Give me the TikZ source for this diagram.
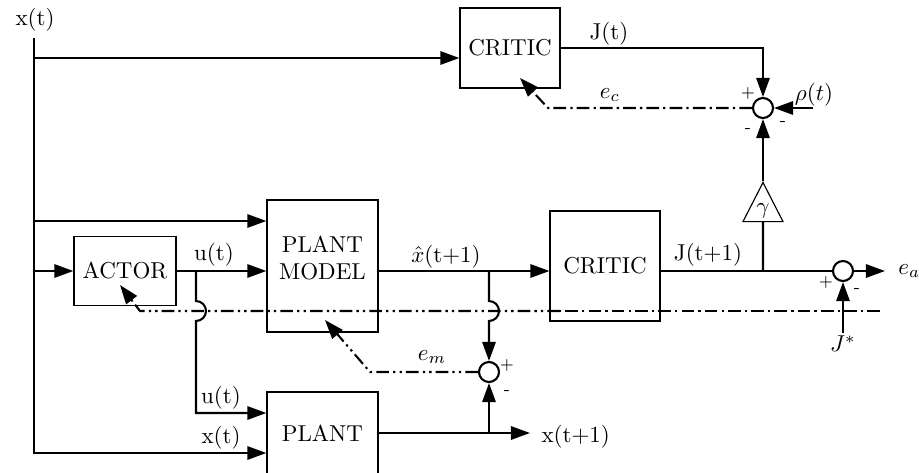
\documentclass[tikz,border=0pt]{standalone}
\usepackage{amsmath}
\usepackage{tikz}
\usetikzlibrary{arrows.meta, shapes.geometric, calc}

\tikzset{
  block/.style={draw, line width=0.5pt, inner sep=0pt, align=center},
  sig/.style={line width=0.9pt},
  tip/.style={-{Triangle[length=8.3pt,width=5.8pt]}},
  arr/.style={sig, tip},
  sum/.style={draw, circle, line width=0.9pt, minimum size=8.7pt, inner sep=0pt},
  gain/.style={draw, line width=0.5pt, isosceles triangle, shape border rotate=90,
    isosceles triangle stretches, minimum width=17.4pt, minimum height=17pt, inner sep=0pt},
  err/.style={sig, dash pattern=on 5.5pt off 1.8pt on 1pt off 1.8pt},
  errdd/.style={sig, dash pattern=on 5.5pt off 1.8pt on 1pt off 1.8pt on 1pt off 1.8pt},
  sgn/.style={font=\scriptsize, inner sep=0pt},
}

\begin{document}
\begin{tikzpicture}[x=0.4348pt, y=-0.4348pt]
\useasboundingbox (0,0) rectangle (919,472);

% Blocos
\node[block, minimum width=43.5pt, minimum height=34.8pt] (critic1) at (510,48) {CRITIC};
\node[block, minimum width=44.4pt, minimum height=30pt] (actor) at (125,271) {ACTOR};
\node[block, minimum width=48.3pt, minimum height=57.4pt] (model) at (322.5,266) {};
\node[align=center, inner sep=0pt] (modeltxt) at (322.5,258) {PLANT\\MODEL};
\node[block, minimum width=47.8pt, minimum height=47.8pt] (critic2) at (605,266) {CRITIC};
\node[block, minimum width=48.3pt, minimum height=35.7pt] (plant) at (322.5,433) {PLANT};

% Somadores e ganho
\node[sum] (s1) at (763,108) {};
\node[sum] (s2) at (843,271) {};
\node[sum] (s3) at (489,372) {};
\node[gain, anchor=apex] (gam) at (763,181) {$\gamma$};

% Pontos auxiliares
\coordinate (xtop) at (34,38);
\coordinate (xc) at (34,58);
\coordinate (xm) at (34,221);
\coordinate (xa) at (34,271);
\coordinate (xp) at (34,453);
\coordinate (ju) at (196,271);
\coordinate (uu) at (196,413);
\coordinate (jx) at (489,271);
\coordinate (jp) at (489,433);
\coordinate (jJ) at (763,271);
\coordinate (rin) at (813,108);
\coordinate (ec) at (548,108);
\coordinate (ectip) at (520,78);
\coordinate (em) at (370,372);
\coordinate (emtip) at (325,320);
\coordinate (ae) at (880,311);
\coordinate (ae2) at (560,311);
\coordinate (ael) at (140,311);
\coordinate (aetip) at (120,285);

% Rotulos
\node (lx) at (35,20) {x(t)};
\node (lJ) at (609,34) {J(t)};
\node (lrho) at (814,95) {$\rho(t)$};
\node (lec) at (610,95) {$e_c$};
\node (lu1) at (214,255) {u(t)};
\node (lu2) at (221,398) {u(t)};
\node (lx2) at (221,438) {x(t)};
\node (lxh) at (446,257) {$\hat{x}$(t+1)};
\node (lJ1) at (708,255) {J(t+1)};
\node (lem) at (432,357) {$e_m$};
\node[anchor=west, inner xsep=4.8pt, inner ysep=0pt] (xn) at (530,437) {x(t+1)};
\node[anchor=west, inner xsep=5.6pt, inner ysep=0pt] (ea) at (885,271) {$e_a$};
\node[anchor=north, inner sep=1pt] (js) at (843,333) {$J^*$};

% Sinais
\node[sgn] (p1) at (748,93) {+};
\node[sgn] (m1) at (783,123) {-};
\node[sgn] (m2) at (748,130) {-};
\node[sgn] (p2) at (826,282) {+};
\node[sgn] (m3) at (857,290) {-};
\node[sgn] (p3) at (507,365) {+};
\node[sgn] (m4) at (507,392) {-};

% Estado x(t)
\draw[arr] (xtop) |- (xp -| plant.west);
\draw[arr] (xc) -- (xc -| critic1.west);
\draw[arr] (xm) -- (xm -| model.west);
\draw[arr] (xa) -- (xa -| actor.west);

% Controle u(t)
\draw[arr] (actor.east |- xa) -- (xa -| model.west);
\draw[arr] (ju) -- ++(0,30) arc(-90:90:10) -- (uu) -- (uu -| plant.west);

% Saidas dos modelos
\draw[arr] (xa -| model.east) -- (xa -| critic2.west);
\draw[arr] (jx) -- ++(0,30) arc(-90:90:10) -- (s3);
\draw[arr] (plant.east) -- (plant.east -| xn.west);
\draw[arr] (jp) -- (s3);

% Criticos
\draw[arr] (critic1.east) -| (s1);
\draw[sig] (xa -| critic2.east) -- (s2);
\draw[sig] (jJ) -- (gam);
\draw[arr] (gam.apex) -- (s1);
\draw[arr] (rin) -- (s1);
\draw[arr] (s2) -- (ea);
\draw[arr] (js) -- (s2);

% Erros
\draw[err, tip] (s1) -- (ec) -- (ectip);
\draw[errdd, tip] (s3) -- (em) -- (emtip);
\draw[err] (ae) -- (ae2);
\draw[errdd, tip] (ae2) -- (ael) -- (aetip);
\end{tikzpicture}
\end{document}
